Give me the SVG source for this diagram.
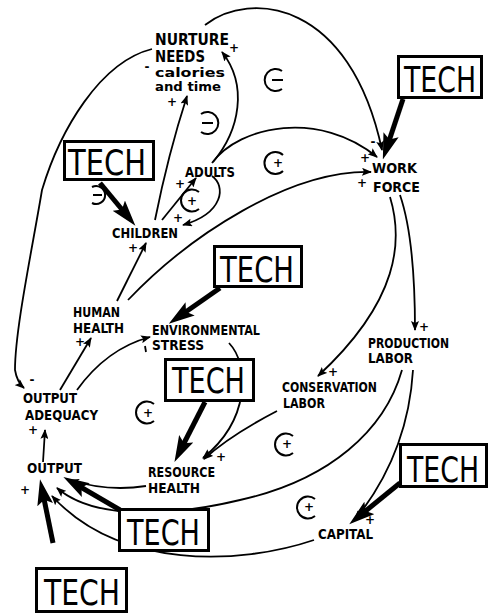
<svg xmlns="http://www.w3.org/2000/svg" width="489" height="615" viewBox="0 0 489 615">
<style>
.lbl{font-family:"DejaVu Sans Condensed","DejaVu Sans",sans-serif;font-weight:bold;font-size:14px;fill:#000}
.big{font-size:15px}
.sm{font-size:13px}
.tech{font-family:"DejaVu Sans Condensed","DejaVu Sans",sans-serif;font-size:35px;fill:#000}
.box{fill:#fff;stroke:#000;stroke-width:3}
.c{fill:none;stroke:#000;stroke-width:1.8}
.thick{fill:none;stroke:#000;stroke-width:5}
.sg{font-family:"DejaVu Sans",sans-serif;font-weight:bold;font-size:12px;fill:#000;text-anchor:middle}
.loop{fill:none;stroke:#000;stroke-width:2}
</style>
<defs>
<marker id="a" markerUnits="userSpaceOnUse" markerWidth="10" markerHeight="8" refX="9" refY="4" orient="auto"><path d="M0,0 L10,4 L0,8 L2,4 z" fill="#000"/></marker>
<marker id="A" markerUnits="userSpaceOnUse" markerWidth="26" markerHeight="16" refX="16" refY="8" orient="auto"><path d="M0,0 L26,8 L0,16 L5,8 z" fill="#000"/></marker>
</defs>
<rect width="489" height="615" fill="#fff"/>
<g id="connectors">
<path class="c" d="M205,25 C250,-10 350,0 382,150" marker-end="url(#a)"/>
<path class="c" d="M212,163 C240,125 320,110 377,157" marker-end="url(#a)"/>
<path class="c" d="M128,300 C190,235 290,170 371,172" marker-end="url(#a)"/>
<path class="c" d="M152,49 C100,62 60,130 42,190 C32,250 15,330 15,370 Q17,382 24,388" marker-end="url(#a)"/>
<path class="c" d="M155,220 C163,180 176,130 187,96" marker-end="url(#a)"/>
<path class="c" d="M213,162 C240,130 248,85 222,52" marker-end="url(#a)"/>
<path class="c" d="M162,220 L196,178" marker-end="url(#a)"/>
<path class="c" d="M212,176 C226,186 224,213 183,225" marker-end="url(#a)"/>
<path class="c" d="M117,301 L146,243" marker-end="url(#a)"/>
<path class="c" d="M60,390 L91,338" marker-end="url(#a)"/>
<path class="c" d="M77,390 C95,365 120,345 150,337" marker-end="url(#a)"/>
<path class="c" d="M229,343 C250,365 250,420 203,458" marker-end="url(#a)"/>
<path class="c" d="M277,411 C250,425 225,440 204,459" marker-end="url(#a)"/>
<path class="c" d="M400,195 C412,230 415,280 415,330" marker-end="url(#a)"/>
<path class="c" d="M390,197 C403,240 400,300 318,376" marker-end="url(#a)"/>
<path class="c" d="M402,370 C385,430 330,480 240,500 C190,512 100,525 57,488" marker-end="url(#a)"/>
<path class="c" d="M314,540 C240,565 120,570 52,496" marker-end="url(#a)"/>
<path class="c" d="M413,370 C410,420 395,470 355,520" marker-end="url(#a)"/>
<path class="c" d="M146,486 C120,490 95,488 70,480" marker-end="url(#a)"/>
<path class="c" d="M43,462 L45,430" marker-end="url(#a)"/>
<path class="thick" d="M100,183 L129,218" marker-end="url(#A)"/>
<path class="thick" d="M403,99 L386,150" marker-end="url(#A)"/>
<path class="thick" d="M220,288 L177,318" marker-end="url(#A)"/>
<path class="thick" d="M205,402 L179,453" marker-end="url(#A)"/>
<path class="thick" d="M120,510 L72,482" marker-end="url(#A)"/>
<path class="thick" d="M53,543 L42,489" marker-end="url(#A)"/>
<path class="thick" d="M400,483 L357,518" marker-end="url(#A)"/>
</g>
<g id="signs">
<text class="sg" x="234" y="52">+</text>
<text class="sg" x="147" y="71">-</text>
<text class="sg" x="172" y="106">+</text>
<text class="sg" x="180" y="188">+</text>
<text class="sg" x="373" y="146">-</text>
<text class="sg" x="365" y="162">+</text>
<text class="sg" x="362" y="187">+</text>
<text class="sg" x="133" y="252">+</text>
<text class="sg" x="178" y="222">+</text>
<text class="sg" x="80" y="346">+</text>
<path class="c" d="M145,346 L146,352"/>
<text class="sg" x="424" y="331">+</text>
<text class="sg" x="333" y="376">+</text>
<text class="sg" x="32" y="384">-</text>
<text class="sg" x="33" y="434">+</text>
<text class="sg" x="25" y="494">+</text>
<text class="sg" x="221" y="461">+</text>
<text class="sg" x="370" y="524">+</text>
</g>
<g id="loops">
<path class="loop" d="M282,71 A11,11 0 1 0 282,89 M272,80 L283,80"/>
<path class="loop" d="M201,114 A11,11 0 1 1 201,132 M202,123 L213,123"/>
<path class="loop" d="M283,155 A11,11 0 1 0 283,171"/><text class="sg" x="278" y="167">+</text>
<path class="loop" d="M199,192 A11,11 0 1 0 199,209"/><text class="sg" x="192" y="205">+</text>
<path class="loop" d="M154,404 A11,11 0 1 0 154,421"/><text class="sg" x="148" y="417">+</text>
<path class="loop" d="M293,436 A11,11 0 1 0 293,453"/><text class="sg" x="287" y="448">+</text>
<path class="loop" d="M315,499 A11,11 0 1 0 315,516"/><text class="sg" x="309" y="511">+</text>
<path class="loop" d="M92,187 A9,9 0 1 1 92,203 M93,195 L102,195"/>
</g>
<g id="nurture"><text class="lbl big" x="155" y="45" textLength="74" lengthAdjust="spacingAndGlyphs">NURTURE</text><text class="lbl big" x="155" y="62" textLength="50" lengthAdjust="spacingAndGlyphs">NEEDS</text><text class="lbl sm" x="155" y="77" textLength="70" lengthAdjust="spacingAndGlyphs">calories</text><text class="lbl sm" x="155" y="91" textLength="66" lengthAdjust="spacingAndGlyphs">and time</text></g>
<g id="adults"><text class="lbl" x="185" y="177" textLength="50" lengthAdjust="spacingAndGlyphs">ADULTS</text></g>
<g id="workforce"><text class="lbl" x="372" y="173" textLength="45" lengthAdjust="spacingAndGlyphs">WORK</text><text class="lbl" x="373" y="192" textLength="47" lengthAdjust="spacingAndGlyphs">FORCE</text></g>
<g id="children"><text class="lbl" x="112" y="238" textLength="66" lengthAdjust="spacingAndGlyphs">CHILDREN</text></g>
<g id="humanhealth"><text class="lbl" x="73" y="317" textLength="47" lengthAdjust="spacingAndGlyphs">HUMAN</text><text class="lbl" x="73" y="333" textLength="51" lengthAdjust="spacingAndGlyphs">HEALTH</text></g>
<g id="envstress"><text class="lbl" x="152" y="335" textLength="108" lengthAdjust="spacingAndGlyphs">ENVIRONMENTAL</text><text class="lbl" x="152" y="350" textLength="52" lengthAdjust="spacingAndGlyphs">STRESS</text></g>
<g id="prodlabor"><text class="lbl" x="368" y="348" textLength="81" lengthAdjust="spacingAndGlyphs">PRODUCTION</text><text class="lbl" x="368" y="363" textLength="45" lengthAdjust="spacingAndGlyphs">LABOR</text></g>
<g id="conslabor"><text class="lbl" x="282" y="392" textLength="95" lengthAdjust="spacingAndGlyphs">CONSERVATION</text><text class="lbl" x="283" y="408" textLength="42" lengthAdjust="spacingAndGlyphs">LABOR</text></g>
<g id="outputadequacy"><text class="lbl" x="23" y="403" textLength="54" lengthAdjust="spacingAndGlyphs">OUTPUT</text><text class="lbl" x="25" y="420" textLength="73" lengthAdjust="spacingAndGlyphs">ADEQUACY</text></g>
<g id="output"><text class="lbl" x="27" y="473" textLength="55" lengthAdjust="spacingAndGlyphs">OUTPUT</text></g>
<g id="resourcehealth"><text class="lbl" x="148" y="477" textLength="67" lengthAdjust="spacingAndGlyphs">RESOURCE</text><text class="lbl" x="148" y="493" textLength="52" lengthAdjust="spacingAndGlyphs">HEALTH</text></g>
<g id="capital"><text class="lbl" x="318" y="539" textLength="55" lengthAdjust="spacingAndGlyphs">CAPITAL</text></g>
<g id="tech1"><rect class="box" x="64.5" y="141.5" width="89" height="38"/><text class="tech" x="68" y="175" textLength="78" lengthAdjust="spacingAndGlyphs">TECH</text></g>
<g id="tech2"><rect class="box" x="398.5" y="56.5" width="83" height="41"/><text class="tech" x="404" y="92" textLength="72" lengthAdjust="spacingAndGlyphs">TECH</text></g>
<g id="tech3"><rect class="box" x="214.5" y="246.5" width="87" height="40"/><text class="tech" x="220" y="282" textLength="74" lengthAdjust="spacingAndGlyphs">TECH</text></g>
<g id="tech4"><rect class="box" x="165.5" y="359.5" width="88" height="41"/><text class="tech" x="172" y="393" textLength="73" lengthAdjust="spacingAndGlyphs">TECH</text></g>
<g id="tech5"><rect class="box" x="119.5" y="509.5" width="89" height="41"/><text class="tech" x="127" y="545" textLength="73" lengthAdjust="spacingAndGlyphs">TECH</text></g>
<g id="tech6"><rect class="box" x="36.5" y="568.5" width="90" height="43"/><text class="tech" x="44" y="605" textLength="76" lengthAdjust="spacingAndGlyphs">TECH</text></g>
<g id="tech7"><rect class="box" x="400.5" y="444.5" width="86" height="42"/><text class="tech" x="407" y="482" textLength="72" lengthAdjust="spacingAndGlyphs">TECH</text></g>
</svg>
